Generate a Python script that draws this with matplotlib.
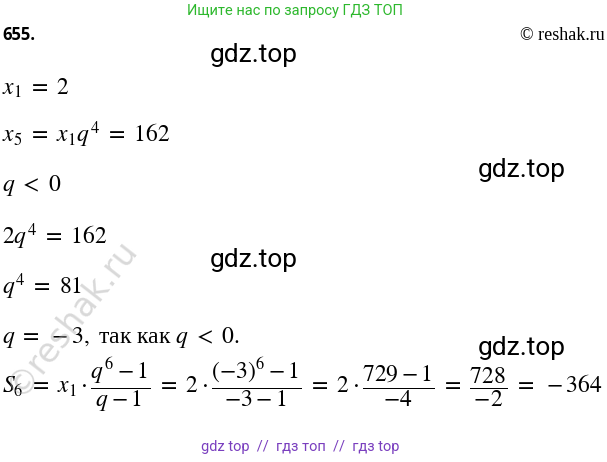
import matplotlib.pyplot as plt

plt.rcParams['mathtext.fontset'] = 'stix'

W, H = 607, 462
header = "Ищите нас по запросу ГДЗ ТОП"
footer = "gdz top  //  гдз топ  //  гдз top"
task_no = "655."
copyright_txt = "© reshak.ru"
watermarks = [(210, 55), (478, 170), (210, 260), (478, 348)]
lines = [
    (88, r"$x_1\ =\ 2$"),
    (135, r"$x_5\ =\ x_1q^4\ =\ 162$"),
    (185, r"$q\ <\ 0$"),
    (237, r"$2q^4\ =\ 162$"),
    (287, r"$q^4\ =\ 81$"),
    (385, r"$S_6\ =\ x_1\cdot\dfrac{q^6-1}{q-1}\ =\ 2\cdot\dfrac{(-3)^6-1}{-3-1}\ =\ 2\cdot\dfrac{729-1}{-4}\ =\ \dfrac{728}{-2}\ =\ -364$"),
]

fig = plt.figure(figsize=(W / 100, H / 100), dpi=100)
ax = fig.add_axes([0, 0, 1, 1])
ax.set_xlim(0, W)
ax.set_ylim(H, 0)
ax.axis('off')

ax.text(295, 11, header, color='#2db82d', fontsize=10.5, ha='center', va='center', family='Roboto')
ax.text(2, 35, task_no, fontsize=12, fontweight='bold', va='center', family='Open Sans')
ax.text(605, 36, copyright_txt, fontsize=13, ha='right', va='center', family='Liberation Serif')

for x, y in watermarks:
    ax.text(x, y, "gdz.top", fontsize=19, va='center', family='Roboto')

for y, s in lines[:-1]:
    ax.text(2, y, s, fontsize=17, va='center')
ax.text(2, lines[-1][0], lines[-1][1], fontsize=17, va='center')
ax.text(2, 338, r"$q\ =\ -3,$" + " так как " + r"$q\ <\ 0.$", fontsize=17, va='center',
        family='Liberation Serif')

ax.text(72, 318, "©reshak.ru", fontsize=24, rotation=52, color='#aaaaaa', alpha=0.45,
        ha='center', va='center', family='DejaVu Sans')

ax.text(300, 447, footer, color='#7a3fbf', fontsize=10.5, ha='center', va='center', family='Roboto')

fig.savefig('out.png', dpi=100)
